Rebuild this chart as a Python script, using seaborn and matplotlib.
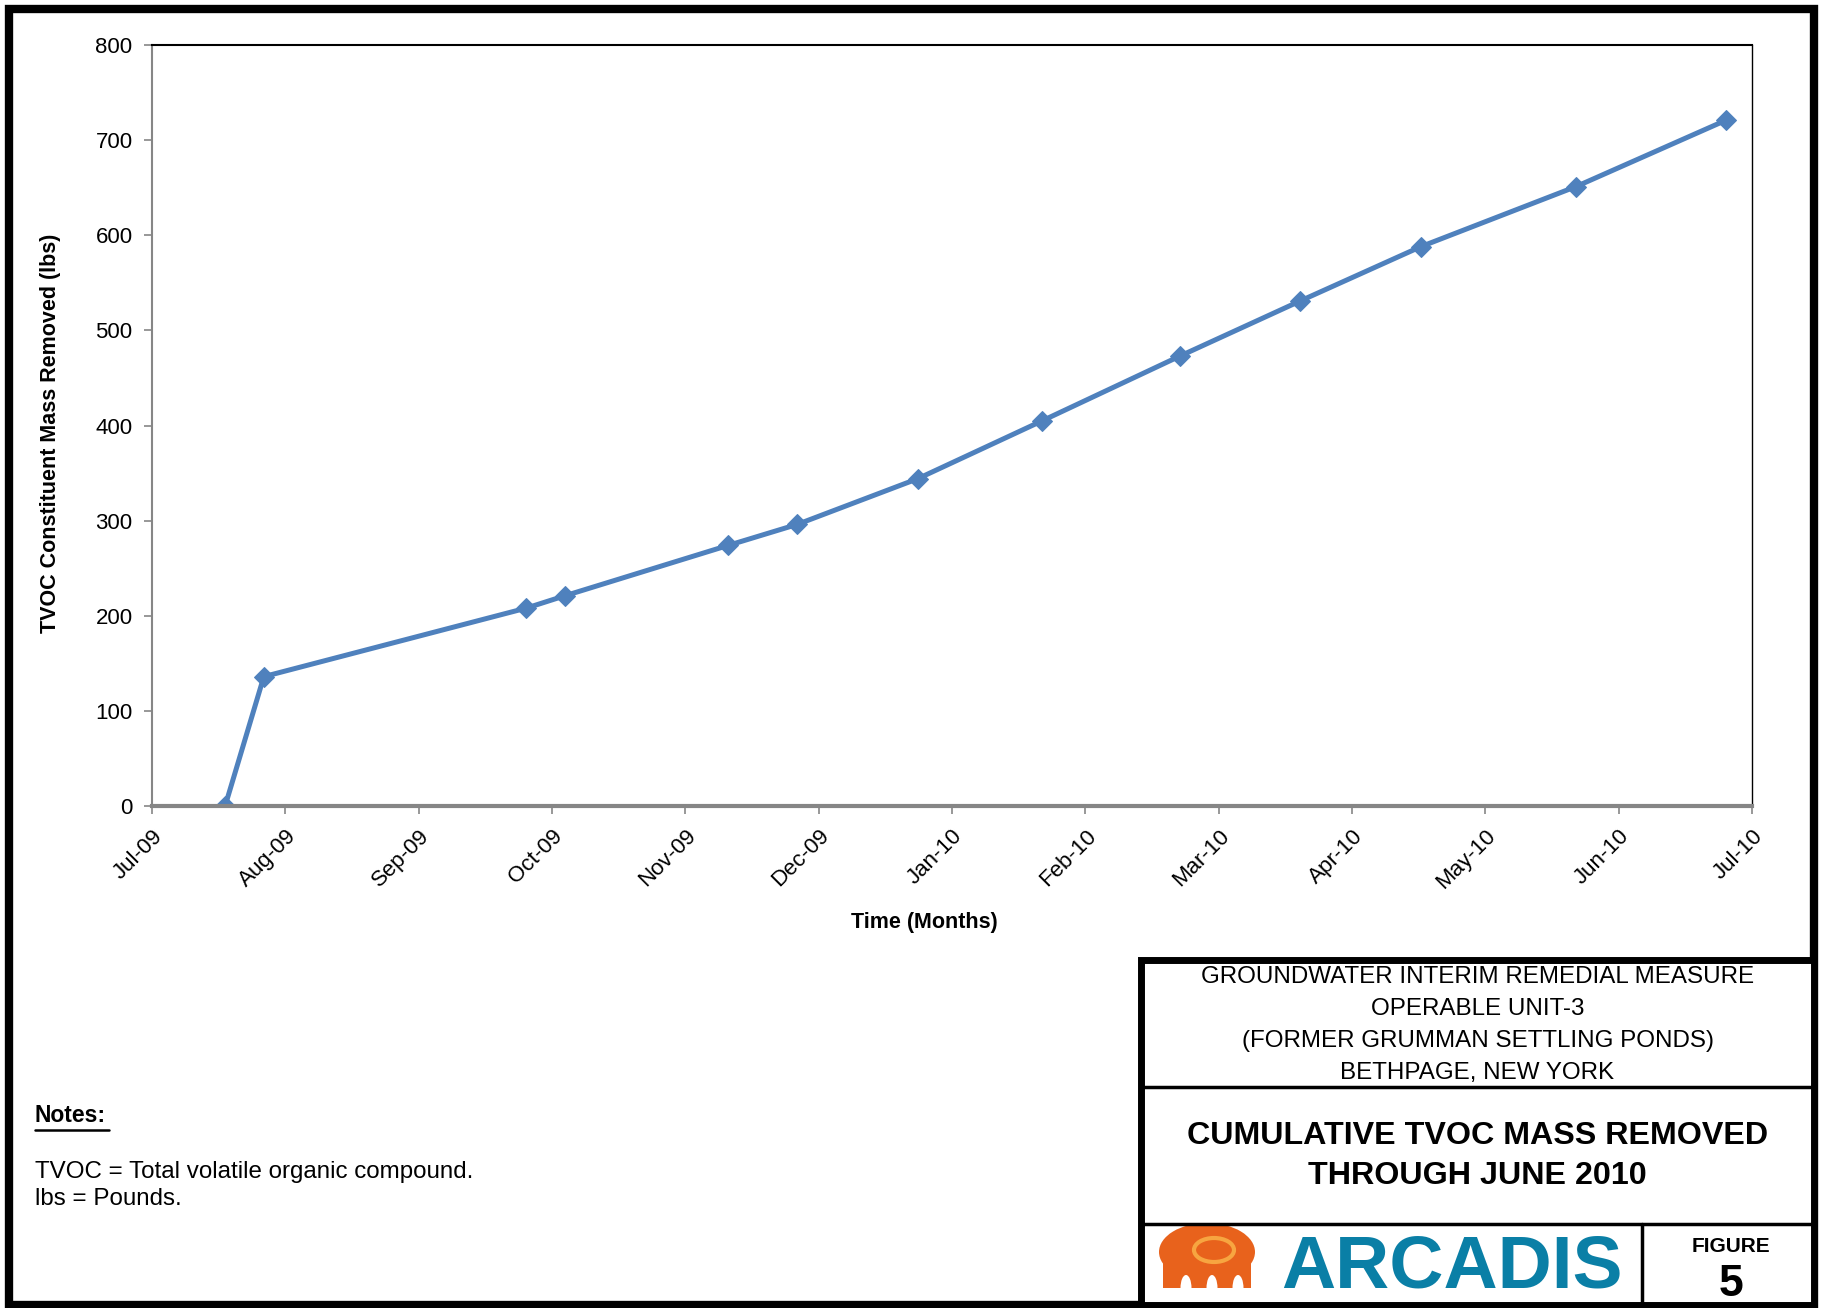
import pandas as pd
import matplotlib.pyplot as plt
import matplotlib.patches as mpatches
from matplotlib.lines import Line2D
import seaborn as sns

# ---- data ----
sample_dates = ["2009-07-18", "2009-07-27", "2009-09-26", "2009-10-05",
                "2009-11-12", "2009-11-28", "2009-12-26", "2010-01-24",
                "2010-02-25", "2010-03-25", "2010-04-22", "2010-05-28",
                "2010-07-02"]
tvoc_lbs = [0, 136, 208, 221, 274, 296, 344, 405, 473, 531, 588, 651, 721]

tick_labels = ["Jul-09", "Aug-09", "Sep-09", "Oct-09", "Nov-09", "Dec-09",
               "Jan-10", "Feb-10", "Mar-10", "Apr-10", "May-10", "Jun-10",
               "Jul-10"]
y_ticks = [0, 100, 200, 300, 400, 500, 600, 700, 800]

header_lines = ["GROUNDWATER INTERIM REMEDIAL MEASURE", "OPERABLE UNIT-3",
                "(FORMER GRUMMAN SETTLING PONDS)", "BETHPAGE, NEW YORK"]
title_lines = ["CUMULATIVE TVOC MASS REMOVED", "THROUGH JUNE 2010"]
notes_lines = ["TVOC = Total volatile organic compound.", "lbs = Pounds."]

df = pd.DataFrame({"date": pd.to_datetime(sample_dates), "mass": tvoc_lbs})

# ---- style ----
sns.set_theme(style="white")
plt.rcParams["font.family"] = ["Liberation Sans", "DejaVu Sans"]
plt.rcParams["text.color"] = "black"
plt.rcParams["axes.labelcolor"] = "black"
plt.rcParams["xtick.color"] = "black"
plt.rcParams["ytick.color"] = "black"

W, H = 1823, 1308
fig = plt.figure(figsize=(W / 100, H / 100), dpi=100)


def fx(x):
    return x / W


def fy(y):
    return 1 - y / H


ax = fig.add_axes([fx(152), fy(806), fx(1752) - fx(152), fy(45) - fy(806)])

sns.lineplot(data=df, x="date", y="mass", ax=ax, color="#4F81BD",
             linewidth=3.6, marker="D", markersize=10,
             markeredgecolor="#4F81BD")

# excel date axis: 31 day major unit starting Jul-1-2009
x_start = pd.Timestamp("2009-07-01")
x_ticks = pd.date_range(x_start, periods=len(tick_labels), freq="31D")
ax.set_xlim(x_ticks[0], x_ticks[-1])
ax.set_xticks(x_ticks)
ax.set_xticklabels(tick_labels, rotation=45, ha="right", va="top",
                   rotation_mode="anchor", fontsize=16)
ax.set_ylim(0, 800)
ax.set_yticks(y_ticks)
ax.set_yticklabels([str(v) for v in y_ticks], fontsize=16)

ax.tick_params(axis="both", direction="out", length=6, width=1.2,
               color="#868686", pad=8, bottom=True, left=True)
ax.spines["left"].set_color("#868686")
ax.spines["left"].set_linewidth(1.5)
ax.spines["bottom"].set_color("#868686")
ax.spines["bottom"].set_linewidth(3)
ax.spines["top"].set_color("black")
ax.spines["top"].set_linewidth(1.5)
ax.spines["right"].set_color("black")
ax.spines["right"].set_linewidth(1)

ax.set_xlabel("Time (Months)", fontsize=15.5, fontweight="bold")
ax.xaxis.set_label_coords(0.483, -0.139)
ax.set_ylabel("TVOC Constituent Mass Removed (lbs)", fontsize=15.5,
              fontweight="bold")
ax.yaxis.set_label_coords(-0.057, 0.49)

# ---- outer frame ----
fig.add_artist(mpatches.Rectangle((fx(9), fy(1305)), fx(1814) - fx(9),
                                  fy(9) - fy(1305), fill=False, lw=6,
                                  ec="black", transform=fig.transFigure))

# ---- title block ----
tb_left, tb_right, tb_top, tb_bot = 1141, 1814, 960, 1305
fig.add_artist(mpatches.Rectangle((fx(tb_left), fy(tb_bot)),
                                  fx(tb_right) - fx(tb_left),
                                  fy(tb_top) - fy(tb_bot), fill=True,
                                  fc="white", lw=5, ec="black",
                                  transform=fig.transFigure))
for yy in [1087, 1224]:
    fig.add_artist(Line2D([fx(tb_left), fx(tb_right)], [fy(yy), fy(yy)],
                          lw=2.5, color="black", transform=fig.transFigure))
fig.add_artist(Line2D([fx(1642), fx(1642)], [fy(1224), fy(tb_bot)],
                      lw=2.5, color="black", transform=fig.transFigure))

cx = (tb_left + tb_right) / 2
for line, yy in zip(header_lines, [983, 1015, 1047, 1079]):
    fig.text(fx(cx), fy(yy), line, ha="center", va="baseline",
             fontsize=17.4)
for line, yy in zip(title_lines, [1144, 1184]):
    fig.text(fx(cx), fy(yy), line, ha="center", va="baseline",
             fontsize=23.2, fontweight="bold")

fig.text(fx(1731), fy(1252), "FIGURE", ha="center", va="baseline",
         fontsize=15, fontweight="bold")
fig.text(fx(1731), fy(1296), "5", ha="center", va="baseline", fontsize=32,
         fontweight="bold")

# ARCADIS logo (text + rough elephant mark)
fig.text(fx(1452), fy(1288), "ARCADIS", ha="center", va="baseline",
         fontsize=54, fontweight="bold", color="#0A7FA6")
orange = "#E8621C"
fig.add_artist(mpatches.Ellipse((fx(1207), fy(1252)), fx(96), 58 / H,
                                fc=orange, ec="none",
                                transform=fig.transFigure))
fig.add_artist(mpatches.Rectangle((fx(1163), fy(1288)), fx(88), 36 / H,
                                  fc=orange, ec="none",
                                  transform=fig.transFigure))
for lx in [1186, 1212, 1238]:
    fig.add_artist(mpatches.Ellipse((fx(lx), fy(1288)), fx(11), 26 / H,
                                    fc="white", ec="none",
                                    transform=fig.transFigure))
fig.add_artist(mpatches.Ellipse((fx(1214), fy(1250)), fx(40), 24 / H,
                                fc="none", ec="#F7A540", lw=3,
                                transform=fig.transFigure))

# ---- notes ----
fig.text(fx(35), fy(1116), "Notes:", ha="left", va="center", fontsize=16.5,
         fontweight="bold")
fig.add_artist(Line2D([fx(35), fx(109)], [fy(1130), fy(1130)], lw=1.8,
                      color="black", transform=fig.transFigure))
for line, yy in zip(notes_lines, [1172, 1199]):
    fig.text(fx(35), fy(yy), line, ha="left", va="center", fontsize=17.4)

fig.savefig("out.png", dpi=100, facecolor="white")
